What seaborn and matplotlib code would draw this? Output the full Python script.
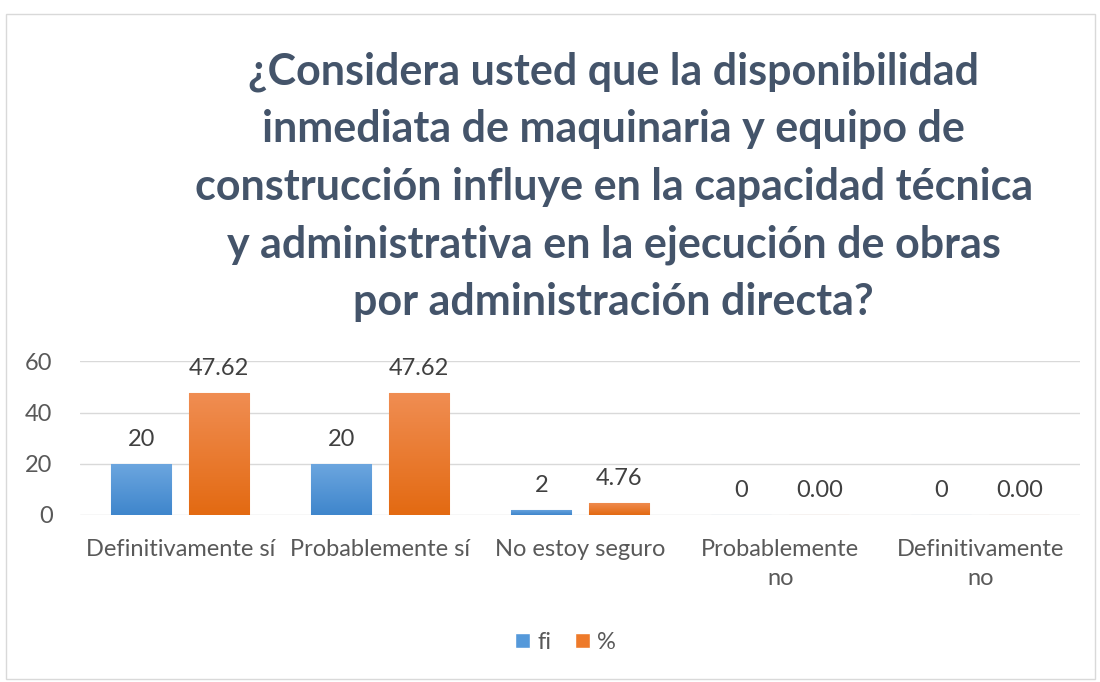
import numpy as np
import pandas as pd
import matplotlib
matplotlib.use("Agg")
import matplotlib.pyplot as plt
import seaborn as sns
from matplotlib.patches import Rectangle
from matplotlib.colors import LinearSegmentedColormap

# Data
categories = ["Definitivamente sí", "Probablemente sí", "No estoy seguro",
              "Probablemente\nno", "Definitivamente\nno"]
fi_values = [20, 20, 2, 0, 0]
pct_values = [47.62, 47.62, 4.76, 0.00, 0.00]
series_names = ["fi", "%"]
y_ticks = [0, 20, 40, 60]

title = ("¿Considera usted que la disponibilidad\n"
         "inmediata de maquinaria y equipo de\n"
         "construcción influye en la capacidad técnica\n"
         "y administrativa en la ejecución de obras\n"
         "por administración directa?")


def add_gradient(ax, patch, top, bottom):
    # paint a vertical gradient inside a bar drawn by seaborn
    x0, y0 = patch.get_x(), patch.get_y()
    w, h = patch.get_width(), patch.get_height()
    if h <= 0:
        return
    cmap = LinearSegmentedColormap.from_list("g", [bottom, top])
    grad = np.linspace(0, 1, 64).reshape(-1, 1)
    im = ax.imshow(grad, cmap=cmap, aspect="auto", origin="lower",
                   extent=(x0, x0 + w, y0, y0 + h), zorder=patch.get_zorder() + 0.1)
    im.set_clip_path(patch)


def main():
    df = pd.DataFrame({
        "Categoria": categories * 2,
        "Valor": fi_values + pct_values,
        "Serie": [series_names[0]] * len(categories) + [series_names[1]] * len(categories),
    })

    sns.set_theme(style="white")
    plt.rcParams["font.family"] = ["Lato", "DejaVu Sans"]

    fig = plt.figure(figsize=(11, 6.82), dpi=100)
    ax = fig.add_axes([0.073, 0.245, 0.909, 0.225])

    palette = {"fi": "#5599DA", "%": "#EE7A2A"}
    sns.barplot(data=df, x="Categoria", y="Valor", hue="Serie", palette=palette,
                width=0.78, gap=0.23, ax=ax, legend=True, saturation=1)

    grads = [("#6CA6DF", "#3F86CC"), ("#F08D52", "#E36A12")]
    edges = ["#9CC3EA", "#F4A878"]
    for container, (top, bottom), ec in zip(ax.containers, grads, edges):
        for p in container:
            p.set_edgecolor(ec)
            p.set_linewidth(0.8)
            add_gradient(ax, p, top, bottom)

    # value labels
    lab_fi = ["%d" % v for v in fi_values]
    lab_pct = ["%.2f" % v for v in pct_values]
    for container, labels in zip(ax.containers, [lab_fi, lab_pct]):
        ax.bar_label(container, labels=labels, padding=10, fontsize=17, color="#404040")

    ax.set_ylim(0, 60)
    ax.set_xlim(-0.5, 4.5)
    ax.set_yticks(y_ticks)
    ax.yaxis.grid(True, color="#D9D9D9", linewidth=1)
    ax.set_axisbelow(True)
    for s in ax.spines.values():
        s.set_visible(False)
    ax.tick_params(axis="both", length=0, labelsize=17, colors="#595959")
    ax.tick_params(axis="x", pad=17)
    ax.tick_params(axis="y", pad=20)
    ax.set_xlabel("")
    ax.set_ylabel("")
    for lbl in ax.get_xticklabels():
        lbl.set_linespacing(1.5)

    leg = ax.legend(loc="center", bbox_to_anchor=(0.485, -0.83), ncol=2, frameon=False,
                    fontsize=17, handlelength=0.65, handleheight=0.65, handletextpad=0.3,
                    columnspacing=1.0)
    for t in leg.get_texts():
        t.set_color("#595959")

    fig.text(0.558, 0.726, title, ha="center", va="center", fontsize=31,
             fontweight="bold", color="#44546A", linespacing=1.53)

    # light chart border
    fig.patches.append(Rectangle((0.005, 0.005), 0.99, 0.975, transform=fig.transFigure,
                                 fill=False, edgecolor="#D9D9D9", linewidth=1))

    fig.savefig("out.png", dpi=100)


if __name__ == "__main__":
    main()
